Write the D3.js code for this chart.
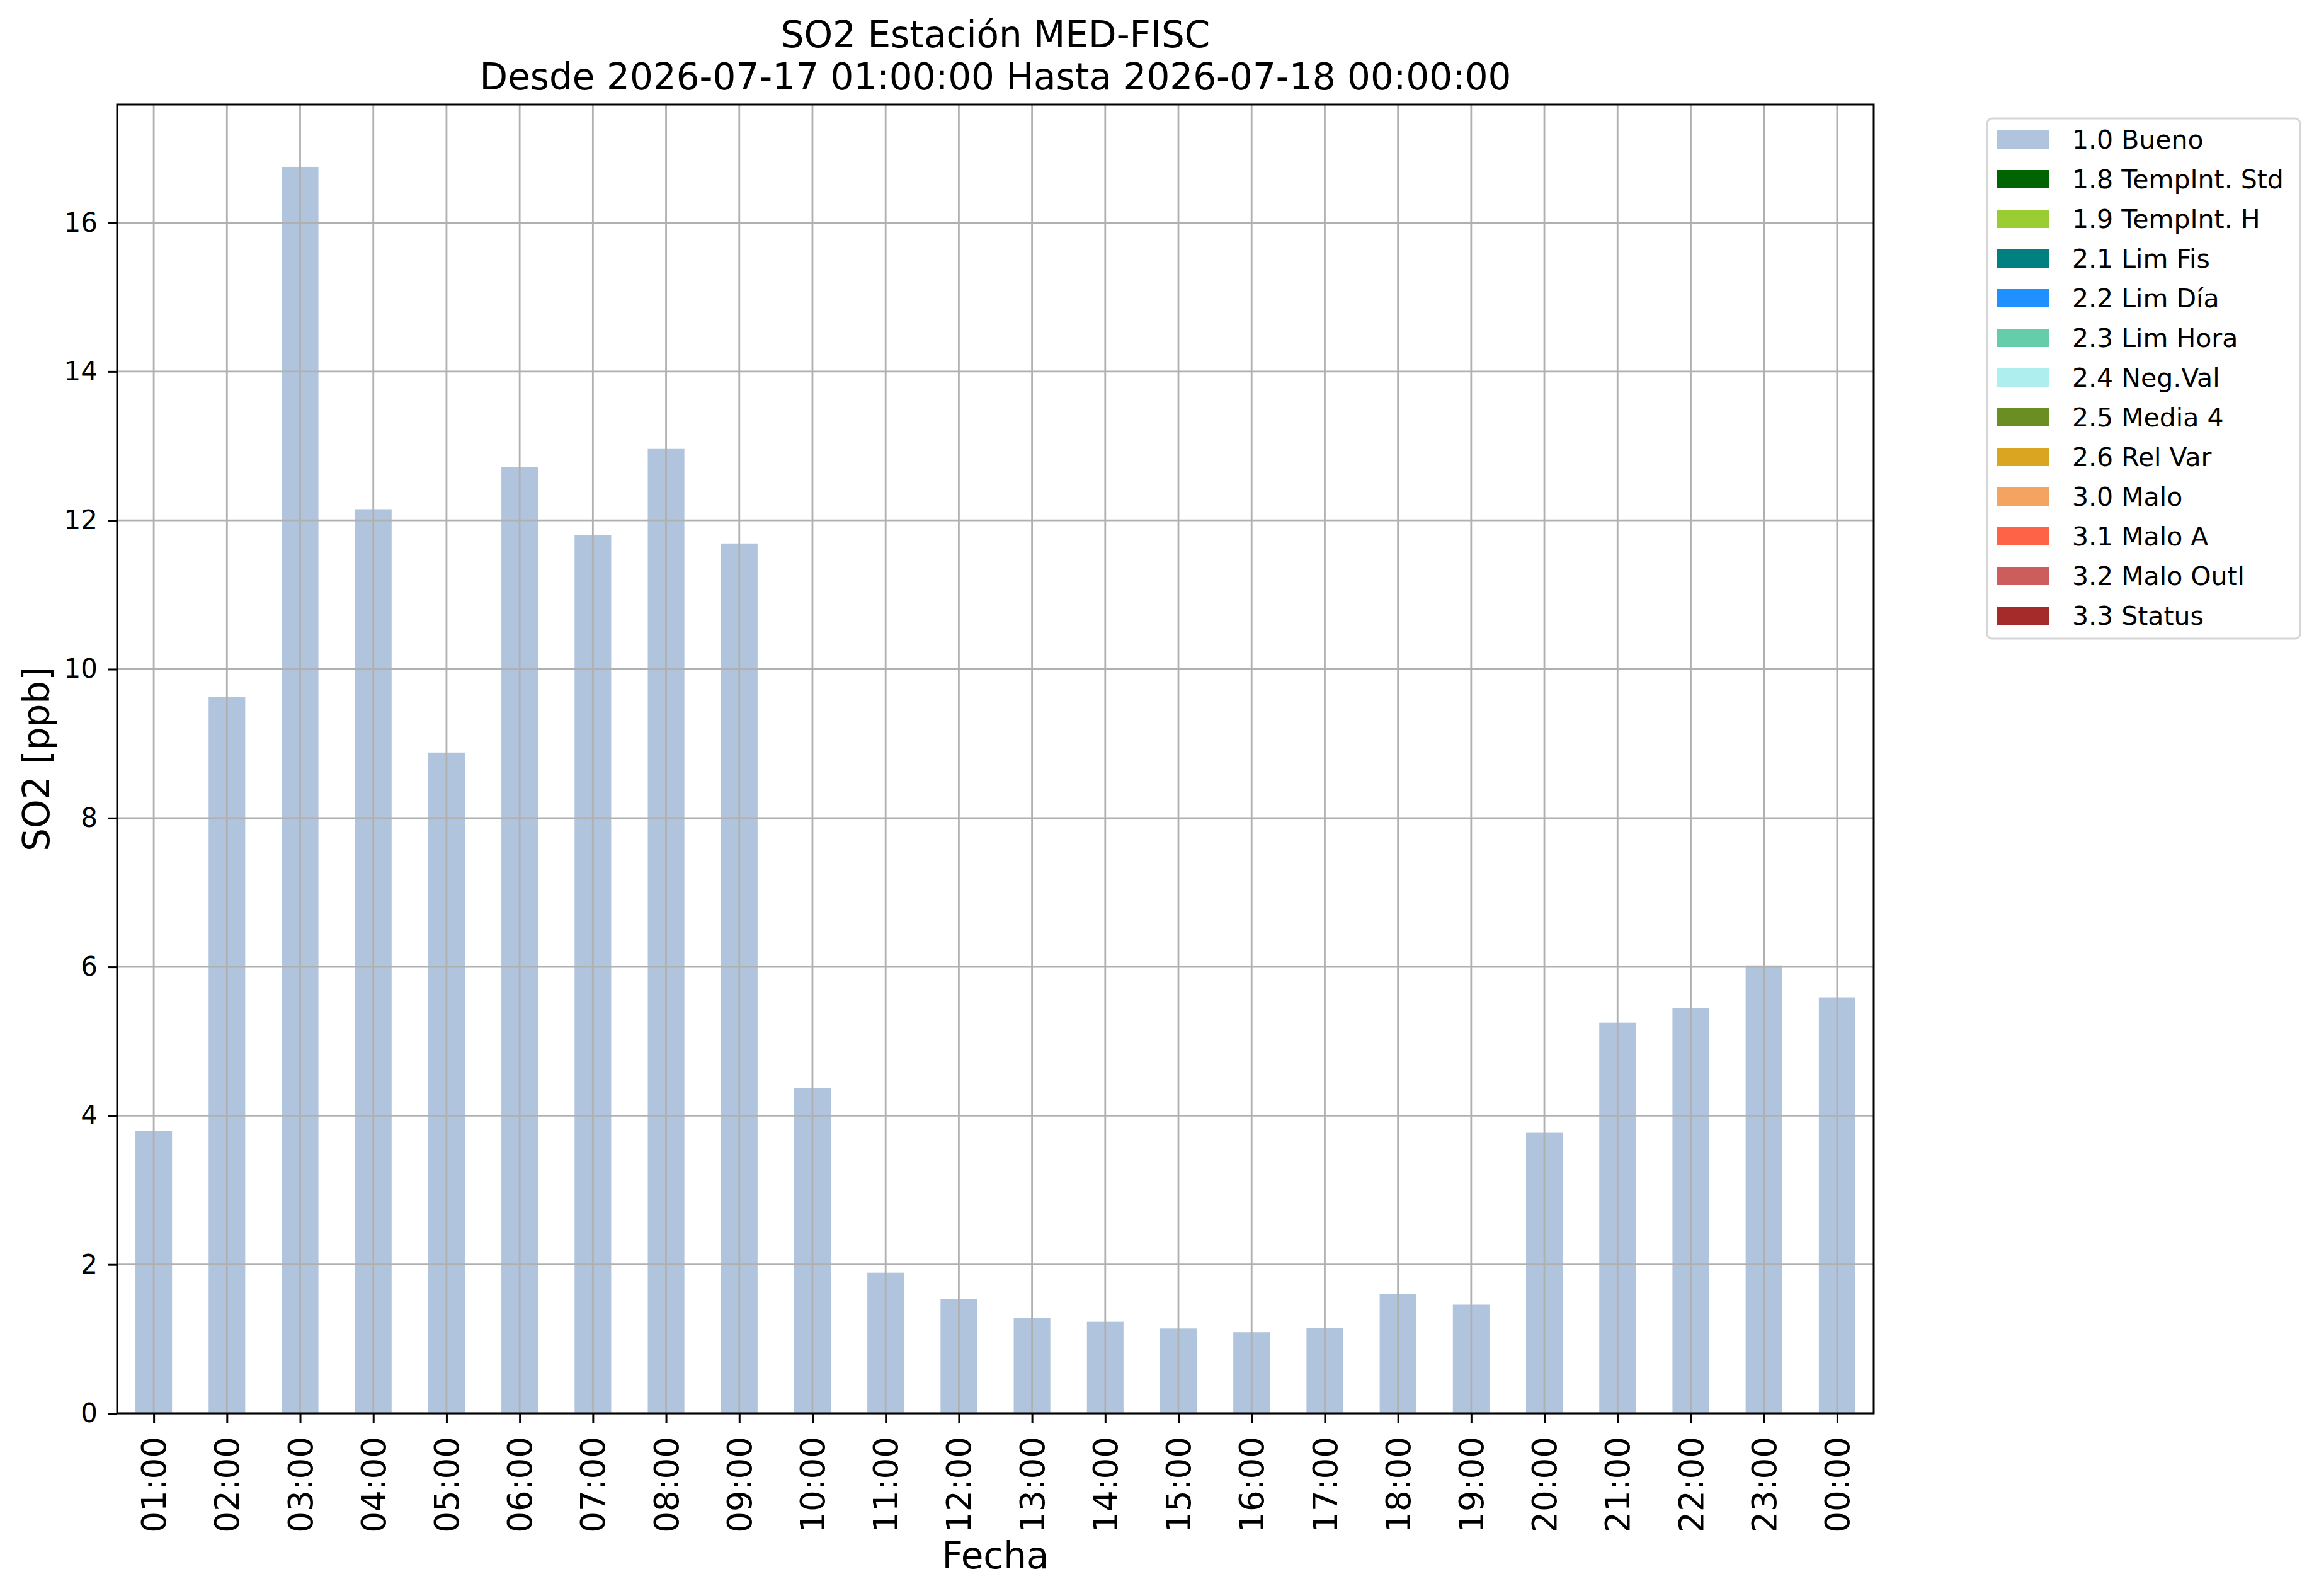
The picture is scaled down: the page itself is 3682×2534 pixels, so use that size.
<!DOCTYPE html>
<html>
<head>
<meta charset="utf-8">
<script src="https://cdn.jsdelivr.net/npm/d3@7"></script>
<style>
  html, body { margin: 0; padding: 0; background: #ffffff; }
  svg { display: block; font-family: "DejaVu Sans", sans-serif; }
</style>
</head>
<body>
<svg id="chart" width="3682" height="2534"></svg>
<script>
// ---- data ----
const hours = ["01:00","02:00","03:00","04:00","05:00","06:00","07:00","08:00","09:00","10:00","11:00","12:00",
               "13:00","14:00","15:00","16:00","17:00","18:00","19:00","20:00","21:00","22:00","23:00","00:00"];
const so2Values = [3.80, 9.63, 16.75, 12.15, 8.88, 12.72, 11.80, 12.96, 11.69, 4.37, 1.89, 1.54,
                   1.28, 1.23, 1.14, 1.09, 1.15, 1.60, 1.46, 3.77, 5.25, 5.45, 6.02, 5.59];
const yTicks = [0, 2, 4, 6, 8, 10, 12, 14, 16];
const legendLabels = ["1.0 Bueno","1.8 TempInt. Std","1.9 TempInt. H","2.1 Lim Fis","2.2 Lim Día","2.3 Lim Hora",
                      "2.4 Neg.Val","2.5 Media 4","2.6 Rel Var","3.0 Malo","3.1 Malo A","3.2 Malo Outl","3.3 Status"];
const legendColors = ["#b0c4de","#006400","#9acd32","#008080","#1e90ff","#66cdaa",
                      "#afeeee","#6b8e23","#daa520","#f4a460","#ff6347","#cd5c5c","#a52a2a"];
const titleLines = ["SO2 Estación MED-FISC", "Desde 2026-07-17 01:00:00 Hasta 2026-07-18 00:00:00"];
const xLabel = "Fecha";
const yLabel = "SO2 [ppb]";

// ---- layout ----
const pL = 186, pR = 2975, pT = 166, pB = 2244;
const svg = d3.select("#chart");

const x = d3.scalePoint().domain(hours).range([pL, pR]).padding(0.5);
const step = x.step();
const barW = step * 0.5;
const y = d3.scaleLinear().domain([0, d3.max(so2Values) * 1.05]).range([pB, pT]);

// bars
svg.append("g").selectAll("rect").data(hours).join("rect")
  .attr("x", (d) => x(d) - barW / 2)
  .attr("y", (d, i) => y(so2Values[i]))
  .attr("width", barW)
  .attr("height", (d, i) => y(0) - y(so2Values[i]))
  .attr("fill", "#b0c4de");

// grid (drawn above bars, as in the reference)
const grid = svg.append("g").attr("stroke", "#b0b0b0").attr("stroke-width", 2.8);
grid.selectAll("line.v").data(hours).join("line").attr("class", "v")
  .attr("x1", (d) => x(d)).attr("x2", (d) => x(d)).attr("y1", pT).attr("y2", pB);
grid.selectAll("line.h").data(yTicks).join("line").attr("class", "h")
  .attr("x1", pL).attr("x2", pR).attr("y1", (d) => y(d)).attr("y2", (d) => y(d));

// axes
const yAxis = svg.append("g").attr("transform", `translate(${pL},0)`)
  .call(d3.axisLeft(y).tickValues(yTicks).tickFormat(d3.format("d")).tickSize(15).tickPadding(16));
yAxis.select(".domain").remove();
yAxis.selectAll(".tick line").attr("stroke", "#000").attr("stroke-width", 3);
yAxis.selectAll(".tick text").attr("font-size", 42).attr("fill", "#000")
  .attr("font-family", "DejaVu Sans");

const xAxis = svg.append("g").attr("transform", `translate(0,${pB})`)
  .call(d3.axisBottom(x).tickSize(16).tickPadding(0));
xAxis.select(".domain").remove();
xAxis.selectAll(".tick line").attr("stroke", "#000").attr("stroke-width", 3);
xAxis.selectAll(".tick text")
  .attr("font-size", 53).attr("fill", "#000").attr("font-family", "DejaVu Sans")
  .attr("transform", "rotate(-90)")
  .attr("text-anchor", "end")
  .attr("x", -37).attr("y", 0).attr("dy", "0.35em");

// spines
svg.append("rect").attr("x", pL).attr("y", pT).attr("width", pR - pL).attr("height", pB - pT)
  .attr("fill", "none").attr("stroke", "#000").attr("stroke-width", 3);

// titles
const cx = (pL + pR) / 2;
svg.append("text").attr("x", cx).attr("y", 75).attr("text-anchor", "middle")
  .attr("font-size", 58).attr("fill", "#000").text(titleLines[0]);
svg.append("text").attr("x", cx).attr("y", 142).attr("text-anchor", "middle")
  .attr("font-size", 58).attr("fill", "#000").text(titleLines[1]);

// axis labels
svg.append("text").attr("x", cx).attr("y", 2490).attr("text-anchor", "middle")
  .attr("font-size", 58).attr("fill", "#000").text(xLabel);
svg.append("text").attr("transform", `translate(78,${(pT + pB) / 2}) rotate(-90)`)
  .attr("text-anchor", "middle").attr("font-size", 58).attr("fill", "#000").text(yLabel);

// legend
const lg = svg.append("g");
lg.append("rect").attr("x", 3155).attr("y", 188).attr("width", 497).attr("height", 826)
  .attr("rx", 8).attr("ry", 8).attr("fill", "#fff").attr("fill-opacity", 0.8)
  .attr("stroke", "#d6d6d6").attr("stroke-width", 3);
const rows = lg.selectAll("g.row").data(legendLabels).join("g").attr("class", "row")
  .attr("transform", (d, i) => `translate(0,${207 + i * 63})`);
rows.append("rect").attr("x", 3171).attr("y", 0).attr("width", 83).attr("height", 29)
  .attr("fill", (d, i) => legendColors[i]);
rows.append("text").attr("x", 3290).attr("y", 29).attr("font-size", 41).attr("fill", "#000")
  .text((d) => d);
</script>
</body>
</html>
